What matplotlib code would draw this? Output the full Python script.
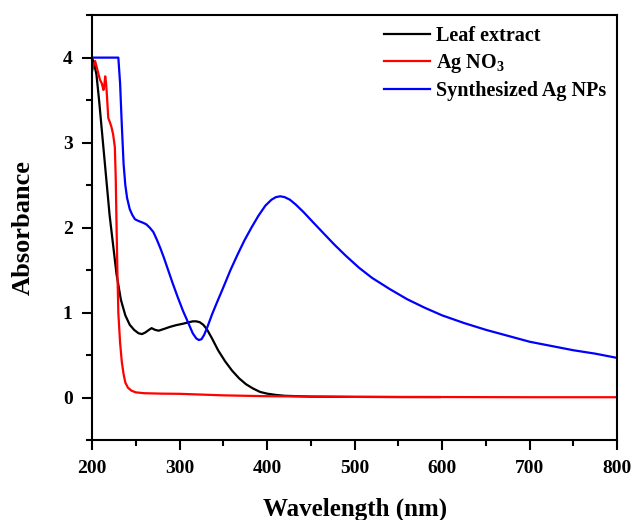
import numpy as np
import matplotlib.pyplot as plt
from matplotlib.ticker import MultipleLocator

# wavelength (nm) / absorbance
leaf_wl = [200, 203, 205, 208, 212, 216, 220, 224, 228, 233, 238, 243, 248, 253, 257,
           261, 265, 268, 272, 276, 282, 289, 296, 303, 309, 315, 319, 323, 327, 331,
           337, 344, 352, 360, 368, 376, 384, 392, 400, 410, 420, 435, 450, 500, 550, 597]
leaf_abs = [4.0, 3.9, 3.8, 3.5, 3.05, 2.6, 2.15, 1.8, 1.45, 1.15, 0.97, 0.86, 0.8, 0.76, 0.75,
            0.77, 0.8, 0.82, 0.8, 0.79, 0.81, 0.835, 0.855, 0.87, 0.885, 0.9, 0.9, 0.89, 0.86, 0.81,
            0.7, 0.56, 0.43, 0.32, 0.23, 0.16, 0.11, 0.07, 0.05, 0.035, 0.025, 0.02, 0.015, 0.012, 0.01, 0.01]

agno3_wl = [200, 202, 203.5, 205, 207, 209, 211, 213, 214, 215, 216, 217, 218.5, 220, 222,
            224, 226, 227, 228, 229, 230, 232, 234, 236, 238, 241, 245, 250, 260, 280, 300,
            350, 400, 500, 600, 700, 800]
agno3_abs = [3.84, 3.92, 3.96, 3.9, 3.82, 3.74, 3.7, 3.62, 3.68, 3.78, 3.7, 3.55, 3.29, 3.25, 3.19,
             3.1, 2.95, 2.6, 2.0, 1.45, 1.0, 0.65, 0.42, 0.28, 0.18, 0.12, 0.085, 0.065, 0.055, 0.05, 0.048,
             0.03, 0.02, 0.012, 0.01, 0.008, 0.008]

np_wl = [200, 205, 215, 225, 230, 232, 234, 236, 238, 240, 243, 246, 249, 253, 258, 262, 266,
         270, 274, 278, 282, 287, 292, 298, 304, 310, 315, 319, 322, 325, 328, 332, 337, 343,
         350, 358, 366, 374, 382, 390, 398, 405, 410, 415, 420, 426, 433, 442, 452, 464, 477,
         490, 505, 520, 540, 560, 580, 600, 625, 650, 675, 700, 725, 750, 775, 800]
np_abs = [4.0, 4.0, 4.0, 4.0, 4.0, 3.7, 3.2, 2.75, 2.5, 2.35, 2.22, 2.15, 2.1, 2.08, 2.06, 2.04, 2.0,
          1.95, 1.86, 1.76, 1.65, 1.5, 1.35, 1.18, 1.02, 0.88, 0.76, 0.7, 0.68, 0.69, 0.74, 0.84, 0.98, 1.13,
          1.3, 1.5, 1.68, 1.85, 2.0, 2.14, 2.26, 2.33, 2.36, 2.37, 2.36, 2.33, 2.27, 2.18, 2.07, 1.94, 1.8,
          1.67, 1.53, 1.41, 1.28, 1.16, 1.06, 0.97, 0.88, 0.8, 0.73, 0.66, 0.61, 0.56, 0.52, 0.47]

plt.rcParams['font.family'] = ['Liberation Serif', 'DejaVu Serif']
plt.rcParams['font.weight'] = 'bold'
plt.rcParams['mathtext.fontset'] = 'custom'
plt.rcParams['mathtext.rm'] = 'Liberation Serif:bold'

fig = plt.figure(figsize=(6.35, 5.2), dpi=100)
ax = fig.add_axes([0.145, 0.153, 0.827, 0.818])

ax.plot(leaf_wl, leaf_abs, color='black', lw=1.6, label='Leaf extract')
ax.plot(agno3_wl, agno3_abs, color='red', lw=1.6, label=r'Ag NO$_\mathregular{3}$')
ax.plot(np_wl, np_abs, color='blue', lw=1.6, label='Synthesized Ag NPs')

ax.set_xlim(200, 800)
ax.set_ylim(-0.5, 4.5)
ax.xaxis.set_major_locator(MultipleLocator(100))
ax.xaxis.set_minor_locator(MultipleLocator(50))
ax.yaxis.set_major_locator(MultipleLocator(1))
ax.yaxis.set_minor_locator(MultipleLocator(0.5))
ax.tick_params(which='major', direction='out', length=7, width=1.5, labelsize=14, pad=7)
ax.tick_params(which='minor', direction='out', length=4, width=1.5)
ax.tick_params(top=False, right=False, which='both')
for s in ax.spines.values():
    s.set_linewidth(1.5)

ax.set_xlabel('Wavelength (nm)', fontsize=18, fontweight='bold', labelpad=15)
ax.set_ylabel('Absorbance', fontsize=19, fontweight='bold', labelpad=20)

ax.legend(loc='upper right', frameon=False, handlelength=2.3,
          handletextpad=0.3, labelspacing=0.3, borderaxespad=0.15,
          prop={'weight': 'bold', 'size': 14.5})

fig.savefig('out.png', dpi=100)
